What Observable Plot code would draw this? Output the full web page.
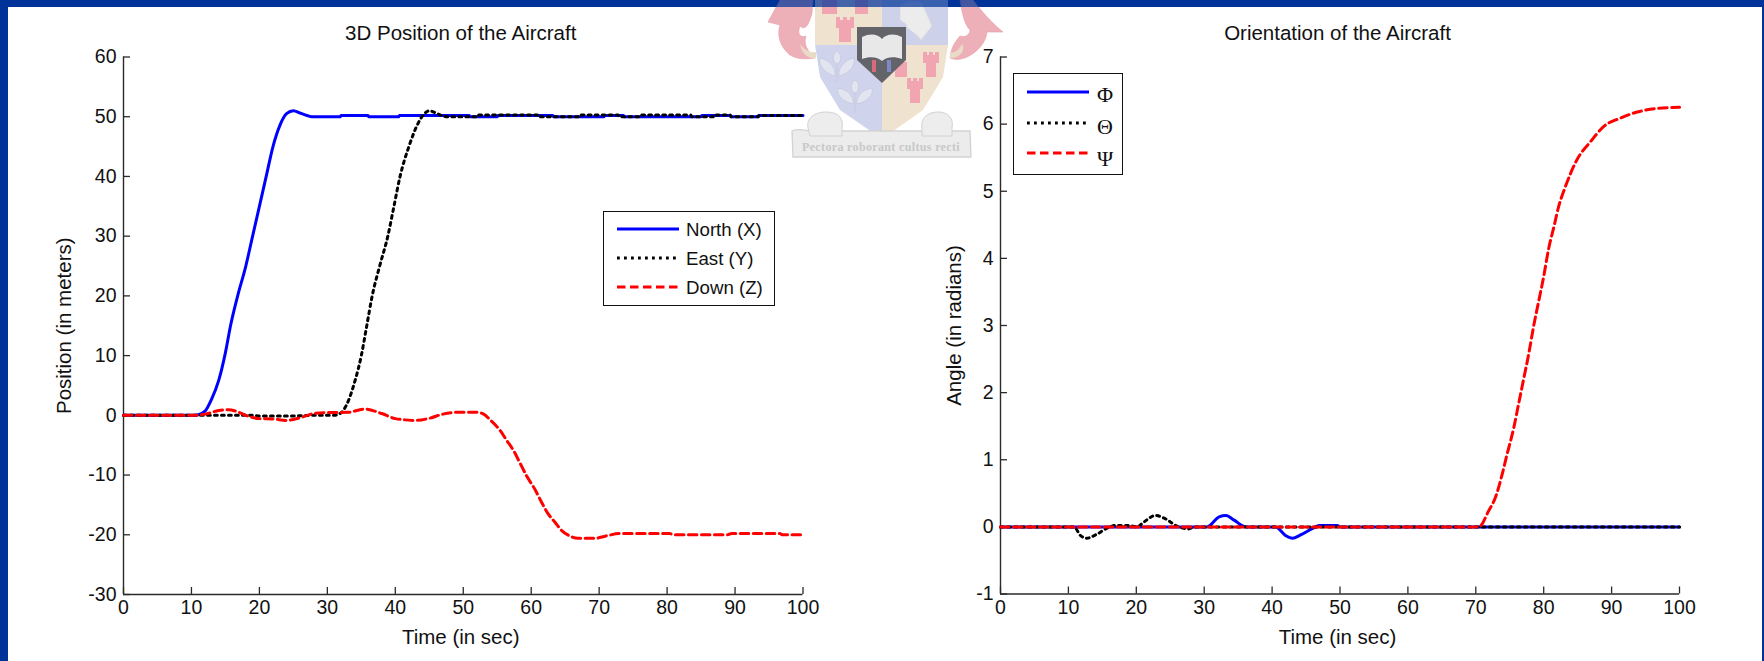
<!DOCTYPE html>
<html><head><meta charset="utf-8">
<script src="https://cdn.jsdelivr.net/npm/d3@7"></script>
<script src="https://cdn.jsdelivr.net/npm/@observablehq/plot@0.6"></script>
<style>
html,body{margin:0;padding:0;background:#fff;overflow:hidden}
#page{position:relative;width:1764px;height:661px;background:#fff;font-family:"Liberation Sans",Arial,sans-serif;overflow:hidden}
.band{position:absolute;background:#003399}
#crest{position:absolute;left:760px;top:0;width:250px;height:165px}
.panel{position:absolute;top:0}
.legend{position:absolute;background:#fff;border:1.5px solid #111;box-sizing:border-box;color:#111}
.legend svg{position:absolute;left:0;top:0;overflow:visible}
.legend span{position:absolute;white-space:nowrap}
</style></head><body>
<div id="page">
<div class="band" style="left:0;top:0;width:1764px;height:7px"></div>
<div class="band" style="left:0;top:0;width:8px;height:661px"></div>
<div class="band" style="left:1762px;top:0;width:2px;height:661px"></div>
<svg id="crest" viewBox="760 0 250 165">
  <g fill="#eeb0b8" stroke="#e79aa6" stroke-width=".6">
    <path d="M780 0 L768 22 L780 25 C777 34 779 46 790 55 C798 60 808 59 815 58 C808 52 803 44 806 36 C800 38 797 34 800 26 C804 30 808 28 812 13 L813 0Z"/>
    <path d="M973 0 C982 12 993 24 1003 32 L987 32 C986 42 978 52 967 57 C960 60 955 60 950 58 C951 50 953 44 960 36 C966 38 970 34 970 30 C964 24 962 12 960 0Z"/>
  </g>
  <path d="M800 44 C804 50 810 53 816 52 L816 58 C808 59 802 54 800 44Z" fill="#e8dcc6"/>
  <path d="M950 52 C956 54 960 48 962 44 C966 50 960 58 950 58Z" fill="#e8dcc6"/>
  <path d="M815 0 H882 V45 H815Z" fill="#efe3d0"/>
  <path d="M882 0 H948 V45 H882Z" fill="#cdd2ea"/>
  <path d="M815 45 H882 V139 L840 110 L820 77Z" fill="#cfd4ec"/>
  <path d="M882 45 H948 L943 77 L923 110 L882 139Z" fill="#efe3d0"/>
  <g fill="#f0a5b1">
    <path d="M822 0 H837 V14 H822Z"/><path d="M855 0 H868 V14 H855Z"/>
    <path d="M836 17 H840 V20 H843 V17 H847 V20 H850 V17 H854 V28 H851 V42 H839 V28 H836Z"/>
    <path d="M923 52 H927 V55 H929 V52 H933 V55 H935 V52 H939 V63 H936 V77 H926 V63 H923Z"/>
    <path d="M907 78 H911 V81 H913 V78 H917 V81 H919 V78 H923 V89 H920 V103 H910 V89 H907Z"/>
    <path d="M895 62 H907 V77 H895Z"/>
  </g>
  <path d="M900 5 C908 0 916 0 922 3 L932 26 L921 40 C916 32 906 30 906 24 L900 20Z" fill="#ececec" stroke="#d9d9de" stroke-width=".7"/>
  <g fill="#e2e4f0" stroke="#bfc3d8" stroke-width=".6">
    <path d="M837 51 C832 54 832 62 837 64 C842 62 842 54 837 51Z"/>
    <path d="M820 58 C818 66 826 74 835 76 C836 68 830 60 820 58Z"/>
    <path d="M854 58 C856 66 848 74 839 76 C838 68 844 60 854 58Z"/>
    <path d="M855 80 C850 83 850 91 855 93 C860 91 860 83 855 80Z"/>
    <path d="M838 88 C836 96 844 102 853 104 C854 96 848 90 838 88Z"/>
    <path d="M872 88 C874 96 866 102 857 104 C856 96 862 90 872 88Z"/>
    <path d="M837 64 V82 M855 93 V113" fill="none"/>
  </g>
  <path d="M857 27 H906 V60 L882 83 L857 60Z" fill="#63646a"/>
  <path d="M862 37 C870 33 878 34 882 39 C886 34 894 33 902 37 V59 C894 56 886 57 882 61 C878 57 870 56 862 59Z" fill="#e8e8e8"/>
  <path d="M872 60 H876 V72 H872Z" fill="#d96a7a"/><path d="M887 60 H891 V72 H887Z" fill="#8088c8"/>
  <path d="M792 131 C796 128 804 130 810 131 L970 131 L971 157 H793Z" fill="#ececec" stroke="#d2d2d2" stroke-width="1.3"/>
  <path d="M808 128 C806 118 815 112 826 112 C838 112 844 118 842 128 L842 136 L810 136Z" fill="#ededed" stroke="#d2d2d2"/>
  <path d="M922 128 C920 118 928 112 938 112 C948 112 954 118 952 128 L952 136 L922 136Z" fill="#ededed" stroke="#d2d2d2"/>
  <text x="881" y="151" text-anchor="middle" font-family="Liberation Serif" font-weight="bold" font-size="12" letter-spacing=".35" fill="#c8c8c8">Pectora roborant cultus recti</text>
  <rect x="766" y="0" width="239" height="7" fill="#003399" opacity=".72"/>
</svg>
<div class="panel" id="p1" style="left:0"></div>
<div class="panel" id="p2" style="left:880px"></div>
<div class="legend" id="leg1" style="left:603px;top:211px;width:172px;height:95px"></div>
<div class="legend" id="leg2" style="left:1013px;top:73px;width:110px;height:102px"></div>
</div>
<script>
const northT=[0,10,11,12,13,14,15,15.75,16.8,18,19,20,21,22,23,24,25,26,27,27.7,31.9,32,36,36.1,40.5,40.6,50.9,51,55,55.1,63.2,63.3,70.7,70.8,73.6,73.7,85,85.1,89.3,89.4,93.4,93.5,100];
const northV=[0,0,.1,.7,2.8,5.8,10.5,15,20,25,30,35,40,45,48.5,50.5,51,50.6,50.2,50,50,50.2,50.2,50,50,50.2,50.2,50,50,50.2,50.2,50,50,50.2,50.2,50,50,50.2,50.2,50,50,50.2,50.2];
const eastT=[0,19,20,25,28,31,32,32.8,34.1,35,35.8,36.6,37.7,38.9,39.8,40.7,42,43.4,44.2,45,46,47.5,52,52.1,61.2,61.3,67,67.1,72.8,72.9,76,76.1,83.5,83.6,86.8,86.9,89.3,89.4,93.4,93.5,100];
const eastV=[0,0,-.1,-.1,0,0,.4,1.7,5.9,10,15,20,25,30,35,40,45,49,50.4,51,50.6,50,50,50.3,50.3,50,50,50.3,50.3,50,50,50.3,50.3,50,50,50.3,50.3,50,50,50.2,50.2];
const downT=[0,10,12,14,15.4,17,18,20,22,24,26,28,30,33,35.5,38,40,43,45,47,49,52,53,54,55.4,56.4,57.4,58.4,59.4,60.5,61.5,62.5,63.5,64.5,65.5,66.9,69.3,71,73,80.4,81,88.9,89.5,96.6,97,100];
const downV=[0,0,.2,.8,.95,.5,0,-.55,-.6,-.85,-.4,.3,.45,.5,1.05,.3,-.55,-.85,-.5,.2,.5,.5,.2,-.8,-2.5,-4.2,-5.9,-8.1,-10.3,-12.3,-14.5,-16.5,-17.9,-19.3,-20.1,-20.6,-20.6,-20.2,-19.8,-19.8,-20,-20,-19.8,-19.8,-20,-20];

const phiT=[0,30.4,32.2,33.2,34.4,36.2,40.5,42,43,44.2,46.2,47,49.6,50.1,100];
const phiV=[0,0,.15,.17,.1,0,0,-.13,-.17,-.12,-.01,.02,.02,0,0];
const thetaT=[0,10.8,11.8,12.7,14,15.7,16.9,18.9,20.1,21.1,22.8,24.3,26,27.7,28.5,100];
const thetaV=[0,0,-.13,-.17,-.12,-.02,.02,.02,0,.07,.17,.12,.01,-.03,0,0];
const psiT=[0,70.45,71.9,72.9,73.9,74.5,75.6,76.3,77,77.8,78.5,79.3,80,80.7,81.5,82.2,83.2,84.9,86.9,88.9,91.3,93.8,96.3,100];
const psiV=[0,0,.24,.44,.79,1.04,1.48,1.83,2.18,2.58,2.98,3.38,3.73,4.13,4.47,4.77,5.07,5.47,5.74,5.97,6.09,6.18,6.23,6.25];

const xTicks=[0,10,20,30,40,50,60,70,80,90,100];
const yTicksPos=[-30,-20,-10,0,10,20,30,40,50,60];
const yTicksAng=[-1,0,1,2,3,4,5,6,7];
const posNames=["North (X)","East (Y)","Down (Z)"];
const angNames=["Φ","Θ","Ψ"];

const BLUE="#0000ff",BLACK="#000",RED="#ff0000",INK="#2a2a2a";
const DOT="2.8,4.2",DASH="8.5,4.5";
const styles=[{stroke:BLUE},{stroke:BLACK,strokeDasharray:DOT},{stroke:RED,strokeDasharray:DASH}];
const FS=19.5,LFS=20.5;

function table(ts,vs){return ts.map((t,i)=>({t,v:vs[i]}));}

function panel(o){
  const h=661,mt=56.5,mb=h-o.bottom;
  const ph=o.bottom-mt;
  const pw=o.width-o.ml-o.mr;
  return Plot.plot({
    width:o.width,height:h,marginLeft:o.ml,marginRight:o.mr,marginTop:mt,marginBottom:mb,
    style:{background:"transparent",fontFamily:"Liberation Sans, Arial, sans-serif",fontSize:FS+"px",color:"#111",overflow:"visible"},
    x:{domain:[0,100],ticks:xTicks},
    y:{domain:o.domain,ticks:o.yTicks},
    marks:[
      Plot.axisX(xTicks,{tickSize:0,tickPadding:6,tickFormat:d=>String(d),label:null,fontSize:FS,stroke:null}),
      Plot.axisY(o.yTicks,{tickSize:0,tickPadding:7,tickFormat:d=>String(d),label:null,fontSize:FS,stroke:null}),
      Plot.ruleX([0],{stroke:INK,strokeWidth:1.4}),
      Plot.ruleY([o.domain[0]],{stroke:INK,strokeWidth:1.4}),
      Plot.tickX(xTicks,{x:d=>d,insetTop:ph-7,stroke:INK,strokeWidth:1.3}),
      Plot.tickY(o.yTicks,{y:d=>d,insetRight:pw-7,stroke:INK,strokeWidth:1.3}),
      ...o.series.map((s,i)=>Plot.line(s,{x:"t",y:"v",strokeWidth:3,curve:"monotone-x",...styles[i]})),
      Plot.text([o.title],{frameAnchor:"top",dx:-2.5,dy:-24,fontSize:LFS,fill:"#111",lineAnchor:"middle",text:d=>d}),
      Plot.text(["Time (in sec)"],{frameAnchor:"bottom",dx:-2.5,dy:43,fontSize:LFS,fill:"#111",lineAnchor:"middle",text:d=>d}),
      Plot.text([o.ylabel],{frameAnchor:"left",dx:o.labelDx,rotate:-90,textAnchor:"middle",lineAnchor:"middle",fontSize:LFS,fill:"#111",text:d=>d})
    ]
  });
}

document.getElementById("p1").append(panel({
  width:880,ml:123,mr:77.5,bottom:594,domain:[-30,60],yTicks:yTicksPos,
  ylabel:"Position (in meters)",labelDx:-59,title:"3D Position of the Aircraft",
  series:[table(northT,northV),table(eastT,eastV),table(downT,downV)]
}));
document.getElementById("p2").append(panel({
  width:884,ml:120,mr:85,bottom:593.5,domain:[-1,7],yTicks:yTicksAng,
  ylabel:"Angle (in radians)",labelDx:-46,title:"Orientation of the Aircraft",
  series:[table(phiT,phiV),table(thetaT,thetaV),table(psiT,psiV)]
}));

function legend(id,names,o){
  const el=document.getElementById(id);
  const ns="http://www.w3.org/2000/svg";
  const svg=document.createElementNS(ns,"svg");
  svg.setAttribute("width",o.x2+4);svg.setAttribute("height",o.rows[2]+10);
  names.forEach((n,i)=>{
    const l=document.createElementNS(ns,"line");
    l.setAttribute("x1",o.x1);l.setAttribute("x2",o.x2);
    l.setAttribute("y1",o.rows[i]);l.setAttribute("y2",o.rows[i]);
    l.setAttribute("stroke",styles[i].stroke);l.setAttribute("stroke-width",3);
    if(styles[i].strokeDasharray)l.setAttribute("stroke-dasharray",styles[i].strokeDasharray);
    svg.append(l);
    const s=document.createElement("span");
    s.textContent=n;
    s.style.left=o.tx+"px";s.style.top=(o.rows[i]+o.dy[i])+"px";
    s.style.fontSize=o.fs+"px";s.style.lineHeight="1";
    s.style.fontFamily=o.ff;
    s.style.transform="translateY(-50%)";
    el.append(s);
  });
  el.prepend(svg);
}
legend("leg1",posNames,{x1:13,x2:75,rows:[17,46,75],tx:82,dy:[1,1,1],fs:18.7,ff:"Liberation Sans, Arial, sans-serif"});
legend("leg2",angNames,{x1:13,x2:75,rows:[18,49,79],tx:83,dy:[3,4,6],fs:22,ff:"Liberation Serif, Times New Roman, serif"});
</script>
</body></html>
